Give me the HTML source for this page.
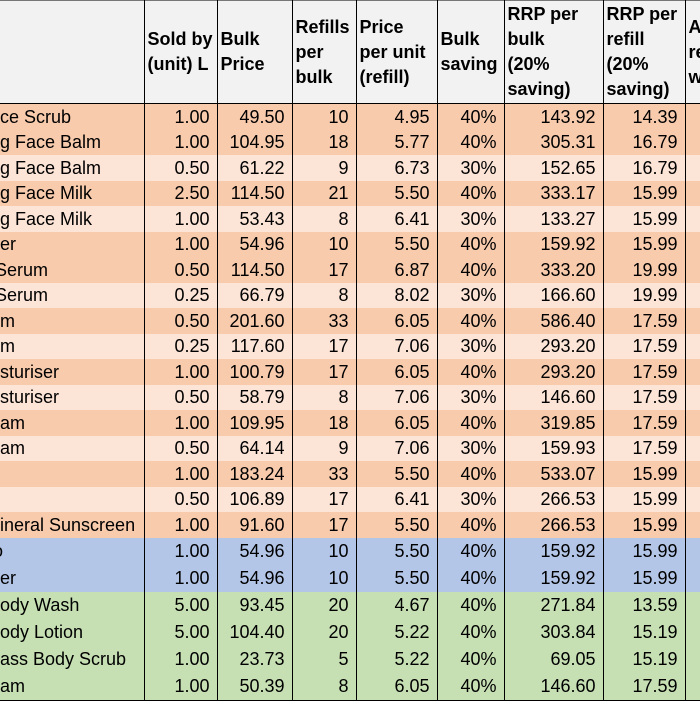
<!DOCTYPE html>
<html><head><meta charset="utf-8"><style>
body{margin:0;width:700px;height:700px;overflow:hidden;background:#fff;font-family:"Liberation Sans",Arial,sans-serif;}
table{position:absolute;left:0;top:0;border-collapse:collapse;table-layout:fixed;width:720px;font-size:18px;color:#000;}
td{padding:0 7px 0 0;text-align:right;border-left:1px solid #000;border-right:1px solid #000;white-space:nowrap;overflow:hidden;line-height:20px;}
td:first-child{text-align:left;border-left:none;padding:0;}
tr.h td{background:#f2f2f2;font-weight:bold;height:102px;text-align:left;padding:0 0 0 3px;line-height:25px;vertical-align:middle;border-bottom:1px solid #000;border-top:1px solid #777;}
tr.h td:first-child{padding:0}
tr.d td{background:#f8cbad}
tr.l td{background:#fce4d6}
tr.b td{background:#b4c6e7;height:27px}
tr.g td{background:#c6e0b4;height:27px}
tr.d td,tr.l td{height:25.5px}
tr.last td{border-bottom:1px solid #000}
</style></head><body>
<table>
<colgroup><col style="width:144px"><col style="width:73px"><col style="width:75px"><col style="width:64px"><col style="width:81px"><col style="width:67px"><col style="width:99px"><col style="width:82px"><col style="width:35px"></colgroup>
<tr class="h"><td></td><td>Sold by<br>(unit) L</td><td>Bulk<br>Price</td><td>Refills<br>per<br>bulk</td><td>Price<br>per unit<br>(refill)</td><td>Bulk<br>saving</td><td>RRP per<br>bulk<br>(20%<br>saving)</td><td>RRP per<br>refill<br>(20%<br>saving)</td><td>A<br>re<br>w</td></tr>
<tr class="d"><td>ce Scrub</td><td>1.00</td><td>49.50</td><td>10</td><td>4.95</td><td>40%</td><td>143.92</td><td>14.39</td><td></td></tr>
<tr class="d"><td>g Face Balm</td><td>1.00</td><td>104.95</td><td>18</td><td>5.77</td><td>40%</td><td>305.31</td><td>16.79</td><td></td></tr>
<tr class="l"><td>g Face Balm</td><td>0.50</td><td>61.22</td><td>9</td><td>6.73</td><td>30%</td><td>152.65</td><td>16.79</td><td></td></tr>
<tr class="d"><td>g Face Milk</td><td>2.50</td><td>114.50</td><td>21</td><td>5.50</td><td>40%</td><td>333.17</td><td>15.99</td><td></td></tr>
<tr class="l"><td>g Face Milk</td><td>1.00</td><td>53.43</td><td>8</td><td>6.41</td><td>30%</td><td>133.27</td><td>15.99</td><td></td></tr>
<tr class="d"><td>er</td><td>1.00</td><td>54.96</td><td>10</td><td>5.50</td><td>40%</td><td>159.92</td><td>15.99</td><td></td></tr>
<tr class="d"><td><span style="margin-left:-5px">Serum</span></td><td>0.50</td><td>114.50</td><td>17</td><td>6.87</td><td>40%</td><td>333.20</td><td>19.99</td><td></td></tr>
<tr class="l"><td><span style="margin-left:-5px">Serum</span></td><td>0.25</td><td>66.79</td><td>8</td><td>8.02</td><td>30%</td><td>166.60</td><td>19.99</td><td></td></tr>
<tr class="d"><td>m</td><td>0.50</td><td>201.60</td><td>33</td><td>6.05</td><td>40%</td><td>586.40</td><td>17.59</td><td></td></tr>
<tr class="l"><td>m</td><td>0.25</td><td>117.60</td><td>17</td><td>7.06</td><td>30%</td><td>293.20</td><td>17.59</td><td></td></tr>
<tr class="d"><td>sturiser</td><td>1.00</td><td>100.79</td><td>17</td><td>6.05</td><td>40%</td><td>293.20</td><td>17.59</td><td></td></tr>
<tr class="l"><td>sturiser</td><td>0.50</td><td>58.79</td><td>8</td><td>7.06</td><td>30%</td><td>146.60</td><td>17.59</td><td></td></tr>
<tr class="d"><td>am</td><td>1.00</td><td>109.95</td><td>18</td><td>6.05</td><td>40%</td><td>319.85</td><td>17.59</td><td></td></tr>
<tr class="l"><td>am</td><td>0.50</td><td>64.14</td><td>9</td><td>7.06</td><td>30%</td><td>159.93</td><td>17.59</td><td></td></tr>
<tr class="d"><td></td><td>1.00</td><td>183.24</td><td>33</td><td>5.50</td><td>40%</td><td>533.07</td><td>15.99</td><td></td></tr>
<tr class="l"><td></td><td>0.50</td><td>106.89</td><td>17</td><td>6.41</td><td>30%</td><td>266.53</td><td>15.99</td><td></td></tr>
<tr class="d"><td>ineral Sunscreen</td><td>1.00</td><td>91.60</td><td>17</td><td>5.50</td><td>40%</td><td>266.53</td><td>15.99</td><td></td></tr>
<tr class="b"><td><span style="margin-left:-7px">o</span></td><td>1.00</td><td>54.96</td><td>10</td><td>5.50</td><td>40%</td><td>159.92</td><td>15.99</td><td></td></tr>
<tr class="b"><td>er</td><td>1.00</td><td>54.96</td><td>10</td><td>5.50</td><td>40%</td><td>159.92</td><td>15.99</td><td></td></tr>
<tr class="g"><td>ody Wash</td><td>5.00</td><td>93.45</td><td>20</td><td>4.67</td><td>40%</td><td>271.84</td><td>13.59</td><td></td></tr>
<tr class="g"><td>ody Lotion</td><td>5.00</td><td>104.40</td><td>20</td><td>5.22</td><td>40%</td><td>303.84</td><td>15.19</td><td></td></tr>
<tr class="g"><td>ass Body Scrub</td><td>1.00</td><td>23.73</td><td>5</td><td>5.22</td><td>40%</td><td>69.05</td><td>15.19</td><td></td></tr>
<tr class="g last"><td>am</td><td>1.00</td><td>50.39</td><td>8</td><td>6.05</td><td>40%</td><td>146.60</td><td>17.59</td><td></td></tr>
</table>
</body></html>
